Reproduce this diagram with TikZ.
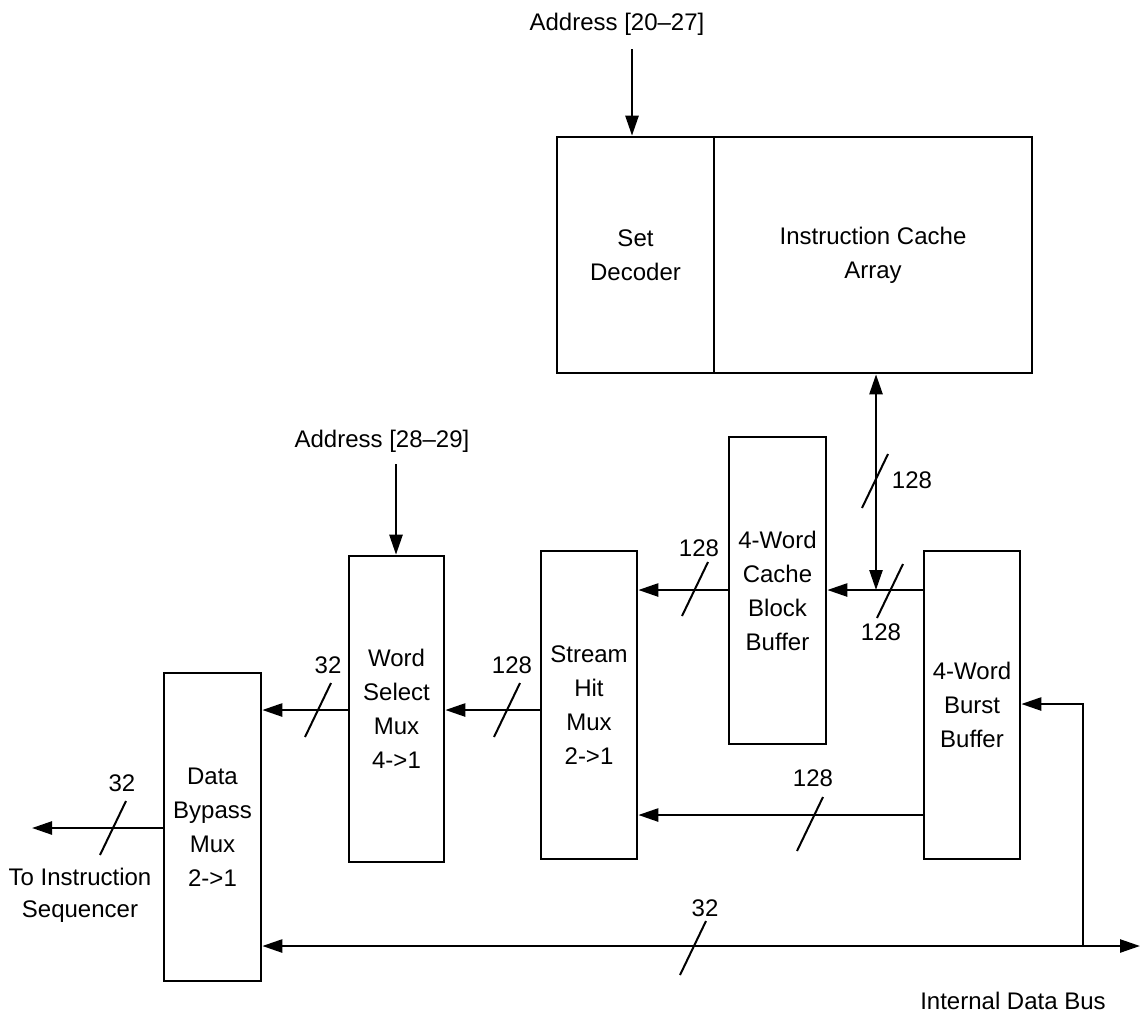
\documentclass[tikz,border=0pt]{standalone}
\usepackage{fontspec}
\setmainfont{Liberation Sans}
\usetikzlibrary{arrows.meta}
\begin{document}
\begin{tikzpicture}[x=1pt,y=-1pt,
  box/.style={draw, line width=2.6pt, inner sep=0pt, align=center, font=\fontsize{24}{34}\selectfont},
  lbl/.style={inner sep=0pt, align=center, font=\fontsize{24}{32}\selectfont},
  conn/.style={line width=2.5pt},
  arr/.style={conn, -{Triangle[length=20pt,width=13pt]}},
  arrb/.style={conn, {Triangle[length=20pt,width=13pt]}-{Triangle[length=20pt,width=13pt]}},
  markline/.style={line width=2pt}
]
\useasboundingbox (0,0) rectangle (1140,1015);
\newcommand\busmark[1]{\draw[markline] (#1) ++(-13,27) -- ++(26,-54);}

% boxes
\node[box, minimum width=157pt, minimum height=236pt] (sd) at (635.5,255) {Set\\Decoder};
\node[box, minimum width=318pt, minimum height=236pt] (ica) at (873,255) {Instruction Cache\\Array};
\node[box, minimum width=97pt, minimum height=307pt] (cbb) at (777.5,590.5) {4-Word\\Cache\\Block\\Buffer};
\node[box, minimum width=96pt, minimum height=308pt] (shm) at (589,705) {Stream\\Hit\\Mux\\2->1};
\node[box, minimum width=95pt, minimum height=306pt] (wsm) at (396.5,709) {Word\\Select\\Mux\\4->1};
\node[box, minimum width=97pt, minimum height=308pt] (dbm) at (212.5,827) {Data\\Bypass\\Mux\\2->1};
\node[box, minimum width=96pt, minimum height=308pt] (burst) at (972,705) {4-Word\\Burst\\Buffer};

% text labels
\node[lbl] (a1) at (617,24) {Address [20–27]};
\node[lbl] (a2) at (382,441) {Address [28–29]};
\node[lbl] (tis) at (80,895) {To Instruction\\Sequencer};
\node[lbl] (idb) at (1013,1001) {Internal Data Bus};

% coordinates
\coordinate (r1) at (0,590);
\coordinate (r2) at (0,710);
\coordinate (r3) at (0,828);
\coordinate (r4) at (0,815);
\coordinate (r5) at (0,704);
\coordinate (bus) at (0,946);
\coordinate (jn) at (876,590);
\coordinate (outend) at (32,828);
\coordinate (busend) at (1140,946);
\coordinate (tap) at (1083,946);
\coordinate (a1s) at (632,49);
\coordinate (a2s) at (396,464);

% connectors
\draw[arr] (a1s) -- (sd.north -| a1s);
\draw[arr] (a2s) -- (wsm.north -| a2s);
\draw[arrb] (ica.south -| jn) -- (jn);
\draw[arr] (burst.west |- r1) -- (cbb.east |- r1);
\draw[arr] (cbb.west |- r1) -- (shm.east |- r1);
\draw[arr] (shm.west |- r2) -- (wsm.east |- r2);
\draw[arr] (wsm.west |- r2) -- (dbm.east |- r2);
\draw[arr] (dbm.west |- r3) -- (outend);
\draw[arr] (burst.west |- r4) -- (shm.east |- r4);
\draw[arrb] (dbm.east |- bus) -- (busend);
\draw[arr] (tap) |- (burst.east |- r5);

% bus width marks
\coordinate (m1) at (875,481);
\coordinate (m2) at (890,591);
\coordinate (m3) at (695,589);
\coordinate (m4) at (507,710);
\coordinate (m5) at (318,710);
\coordinate (m6) at (113,828);
\coordinate (m7) at (810,824);
\coordinate (m8) at (693,948);
\busmark{m1}\busmark{m2}\busmark{m3}\busmark{m4}
\busmark{m5}\busmark{m6}\busmark{m7}\busmark{m8}

\node[lbl] (w1) at (912,480) {128};
\node[lbl] (w2) at (881,632) {128};
\node[lbl] (w3) at (699,548) {128};
\node[lbl] (w4) at (512,665) {128};
\node[lbl] (w5) at (328,665) {32};
\node[lbl] (w6) at (122,783) {32};
\node[lbl] (w7) at (813,778) {128};
\node[lbl] (w8) at (705,908) {32};
\end{tikzpicture}
\end{document}
